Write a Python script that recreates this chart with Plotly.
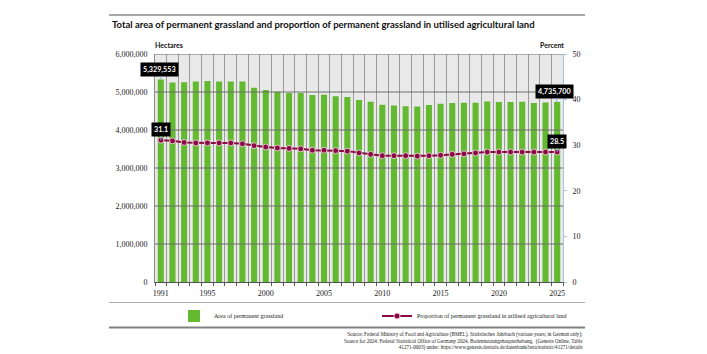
import plotly.graph_objects as go

years = list(range(1991, 2026))
area_ha = [5329553, 5248000, 5257000, 5274000, 5292000, 5274000, 5274000, 5274000,
           5115000, 5053000, 5009000, 4973000, 4973000, 4920000, 4929000, 4885000,
           4867000, 4788000, 4743000, 4664000, 4646000, 4628000, 4619000, 4655000,
           4690000, 4708000, 4717000, 4717000, 4752000, 4735000, 4735000, 4743000,
           4708000, 4726000, 4735700]
share_pct = [31.1, 30.95, 30.6, 30.5, 30.5, 30.5, 30.5, 30.3, 29.9, 29.6, 29.4, 29.3,
             29.2, 28.9, 28.9, 28.8, 28.7, 28.3, 28.0, 27.7, 27.7, 27.7, 27.6, 27.7,
             27.8, 28.0, 28.1, 28.3, 28.5, 28.5, 28.5, 28.5, 28.5, 28.5, 28.5]
year_ticks = [1991, 1995, 2000, 2005, 2010, 2015, 2020, 2025]
left_ticks = [0, 1000000, 2000000, 3000000, 4000000, 5000000, 6000000]
right_ticks = [0, 10, 20, 30, 40, 50]

title = "Total area of permanent grassland and proportion of permanent grassland in utilised agricultural land"
source = ("Source: Federal Ministry of Food and Agriculture (BMEL), Statistisches Jahrbuch (various years; in German only);<br>"
          "Source for 2024: Federal Statistical Office of Germany 2024, Bodennutzungshaupterhebung,  (Genesis Online, Table<br>"
          "41271-0003) under: https://www.genesis.destatis.de/datenbank/beta/statistic/41271/details")

W, H = 707, 354
L, R, T, B = 155, 144, 54, 72
PW, PH = W - L - R, H - T - B

def X(px):
    return (px - L) / PW

def Y(py):
    return (H - B - py) / PH

GREEN = "#63b92f"
MAROON = "#8a0b43"
SERIF = "Liberation Serif, DejaVu Serif, serif"
SANS = "Lato, Roboto, sans-serif"

fig = go.Figure()
fig.add_trace(go.Bar(x=years, y=area_ha, name="Area of permanent grassland",
                     marker=dict(color=GREEN, line=dict(width=0)), width=0.52,
                     yaxis="y", hoverinfo="x+y"))
fig.add_trace(go.Scatter(x=years, y=share_pct, yaxis="y2", mode="lines+markers",
                         name="Proportion of permanent grassland in utilised agricultural land",
                         line=dict(color=MAROON, width=2),
                         marker=dict(size=6, color=MAROON, line=dict(color="#e8c8d4", width=1))))

shapes = []
for v in left_ticks[1:]:
    shapes.append(dict(type="line", xref="paper", yref="y", x0=0, x1=1, y0=v, y1=v,
                       line=dict(color="#6e6e6e", width=1), layer="above"))
shapes.append(dict(type="line", xref="paper", yref="paper", x0=X(109), x1=X(585),
                   y0=Y(15), y1=Y(15), line=dict(color="#8a8a8a", width=1.5)))
shapes.append(dict(type="line", xref="paper", yref="paper", x0=X(109), x1=X(585),
                   y0=Y(302.5), y1=Y(302.5), line=dict(color="#b0b0b0", width=1)))
shapes.append(dict(type="line", xref="paper", yref="paper", x0=X(109), x1=X(585),
                   y0=Y(327.5), y1=Y(327.5), line=dict(color="#808080", width=2)))

annotations = [
    dict(text="<b>" + title + "</b>", xref="paper", yref="paper", x=X(110), y=Y(24),
         xanchor="left", yanchor="middle", showarrow=False,
         font=dict(family=SANS, size=9.5, color="#111")),
    dict(text="<b>Hectares</b>", xref="paper", yref="paper", x=X(153), y=Y(45),
         xanchor="left", yanchor="middle", showarrow=False,
         font=dict(family=SANS, size=7, color="#111")),
    dict(text="<b>Percent</b>", xref="paper", yref="paper", x=X(566), y=Y(45),
         xanchor="right", yanchor="middle", showarrow=False,
         font=dict(family=SANS, size=7, color="#111")),
    dict(text=source, xref="paper", yref="paper", x=X(585), y=Y(329),
         xanchor="right", yanchor="top", align="right", showarrow=False,
         font=dict(family=SERIF, size=5.1, color="#222")),
]

def label(x, y, txt, yref, ax, ay):
    return dict(x=x, y=y, xref="x", yref=yref, text="<b>" + txt + "</b>",
                showarrow=True, arrowhead=0, arrowwidth=1, arrowcolor="#7db3dc",
                ax=ax, ay=ay, standoff=0, bgcolor="#000000", borderpad=2,
                font=dict(family=SANS, size=7.2, color="#ffffff"))

annotations.append(label(years[0], area_ha[0], f"{area_ha[0]:,}", "y", -1, -10))
annotations.append(label(years[-1], area_ha[-1], f"{area_ha[-1]:,}", "y", -3, -11))
annotations.append(label(years[0], share_pct[0], f"{share_pct[0]:.1f}", "y2", 0, -11))
annotations.append(label(years[-1], share_pct[-1], f"{share_pct[-1]:.1f}", "y2", 0, -11))

fig.update_layout(
    width=W, height=H,
    margin=dict(l=L, r=R, t=T, b=B, pad=0),
    paper_bgcolor="#ffffff",
    plot_bgcolor="#e9e9e9",
    showlegend=True,
    legend=dict(orientation="h", x=X(174), y=Y(316), xanchor="left", yanchor="middle",
                entrywidth=158, entrywidthmode="pixels", itemwidth=30,
                font=dict(family=SERIF, size=6, color="#222"),
                bgcolor="rgba(0,0,0,0)", tracegroupgap=0, itemclick=False),
    xaxis=dict(range=[1990.5, 2025.5], tickmode="array", tickvals=year_ticks,
               ticktext=[str(t) for t in year_ticks], ticks="", showgrid=False,
               showline=True, linecolor="#555", linewidth=1, zeroline=False,
               ticklabelstandoff=3,
               tickfont=dict(family=SERIF, size=8, color="#222"),
               minor=dict(tick0=0.5, dtick=1, showgrid=True, gridcolor="#9a9a9a",
                          gridwidth=1, ticks="outside", ticklen=3, tickcolor="#555")),
    yaxis=dict(range=[0, 6000000], tickmode="array", tickvals=left_ticks,
               tickformat=",d", showgrid=False, zeroline=False,
               showline=True, linecolor="#8a8a8a", linewidth=1,
               ticks="", ticklabelstandoff=5,
               tickfont=dict(family=SERIF, size=8, color="#222")),
    yaxis2=dict(range=[0, 50], tickmode="array", tickvals=right_ticks, overlaying="y",
                side="right", showgrid=False, zeroline=False, showline=True,
                linecolor="#a8c4dc", linewidth=1, ticks="outside", ticklen=3,
                tickcolor="#a8c4dc", ticklabelstandoff=4,
                tickfont=dict(family=SERIF, size=8, color="#222")),
    shapes=shapes,
    annotations=annotations,
    bargap=0.48,
)

fig.write_html("out.html")
